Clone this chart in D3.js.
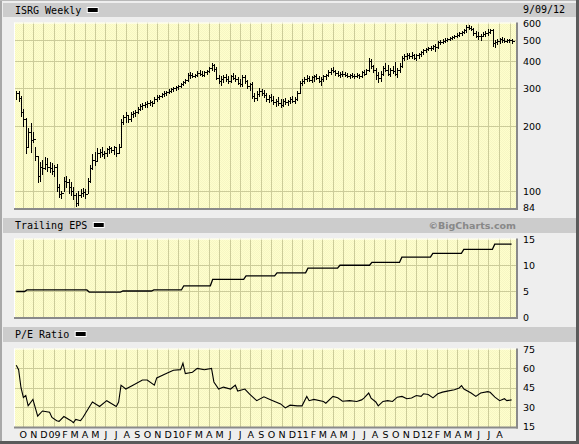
<!DOCTYPE html>
<html><head><meta charset="utf-8">
<script src="https://cdn.jsdelivr.net/npm/d3@7"></script>
<style>body{margin:0;background:#eeeeee;}svg{display:block}</style>
</head><body><svg id="c" width="579" height="444"></svg>
<script>
// ---------------- DATA ----------------
const firstWeek = "2008-09-12"; // weekly bars, one per week
const priceHigh = [292,290,275,240,218,196,206,188,160,145,136,140,144,142,137,135,132,134,108,100,116,118,114,110,104,98,100,102,103,102,115,132,148,152,158,156,160,154,158,162,160,162,160,165,215,225,232,225,232,235,238,245,252,256,258,260,264,262,272,278,280,286,290,292,296,300,304,308,310,318,324,330,352,355,352,350,358,362,360,358,365,375,390,388,375,345,340,345,350,340,345,352,345,338,330,345,345,326,318,320,285,290,300,298,295,285,280,282,275,268,272,266,268,270,265,272,275,272,290,325,330,338,345,342,340,345,348,342,338,345,350,362,372,375,365,360,355,358,356,352,350,354,350,352,350,360,365,368,412,408,385,370,355,360,378,392,385,372,380,395,370,390,420,432,438,436,440,432,430,438,445,455,460,465,470,475,480,495,500,505,510,512,515,525,530,538,545,550,565,585,590,580,570,550,545,535,545,550,560,565,560,500,505,510,515,512,508,505,505];
const priceLow  = [268,262,222,200,150,160,152,168,140,110,112,120,126,124,122,120,118,100,94,93,100,104,98,96,92,85,86,94,95,93,98,110,126,132,140,144,146,142,146,150,152,148,146,150,160,205,210,208,212,220,222,230,238,240,244,246,250,248,255,262,268,272,276,280,284,288,290,294,298,302,310,316,322,335,336,338,340,345,340,342,348,355,365,360,330,318,310,320,325,318,320,330,322,312,305,305,318,300,295,270,262,265,275,278,272,262,258,262,252,248,250,245,248,252,250,255,258,255,265,285,310,318,325,322,320,325,330,320,310,325,330,340,350,355,345,340,338,342,340,336,335,338,334,336,334,338,345,348,360,372,355,330,320,325,345,360,345,340,352,345,338,355,375,405,410,412,415,408,405,415,420,430,440,448,450,455,445,462,478,485,490,495,498,505,510,515,522,530,540,545,560,555,530,515,505,500,520,525,530,540,470,465,478,485,490,488,490,488,485];
const priceClose= [285,270,232,215,160,188,172,175,145,118,130,128,134,130,128,124,129,104,97,98,112,110,104,100,96,88,96,98,99,97,112,128,140,138,150,152,148,150,156,158,155,160,150,160,210,220,225,215,228,230,232,240,248,250,252,255,258,255,268,272,276,282,285,288,292,296,300,304,306,314,320,326,345,345,340,346,352,350,346,355,360,370,382,368,335,325,330,338,332,325,340,335,330,318,312,338,322,305,312,275,270,282,290,285,280,268,272,265,258,262,255,250,262,258,262,268,262,268,285,318,325,330,335,328,336,340,335,325,332,340,345,355,365,360,352,345,350,348,345,342,346,342,340,345,340,355,350,362,400,378,362,345,335,350,372,365,350,365,360,350,362,380,415,420,425,420,425,415,425,432,440,448,455,460,462,468,465,488,490,495,500,505,510,518,525,530,538,545,558,575,570,562,540,525,520,525,535,540,548,555,485,490,495,505,500,495,498,502,495];
const epsChangeDates = ["2008-10-10","2009-04-11","2009-07-19","2009-10-18","2010-01-14","2010-04-09","2010-07-16","2010-10-15","2011-01-14","2011-04-18","2011-07-21","2011-10-17","2012-01-16","2012-04-16","2012-07-16"];
const epsValues = [4.9,5.2,4.8,5.0,5.2,6.0,7.25,7.9,8.5,9.4,9.95,10.5,11.5,12.25,13.0,14.0];
const peWeeks  = [0,1,2,3,4,5,7,9,11,14,15,17,18,20,23,24,25,27,28,31,32,35,38,42,43,44,46,49,53,55,58,59,63,66,69,70,71,74,76,79,82,83,85,87,90,92,93,96,98,101,104,107,111,113,115,118,120,122,123,125,129,130,133,135,137,140,143,145,146,148,149,151,152,154,156,158,160,162,164,166,168,170,171,173,175,177,179,181,184,186,187,188,191,193,195,198,199,201,203,205,206,208];
const peValues = [62.5,59,45,37.5,39,31,36,23,27,26,22,19.5,19,22.7,19.5,18,20.5,19.5,22,31,34,30.5,35,30.5,34,47,44,47,51,51,47,52.6,56,58.6,59,64,56,57,60,59,60,49.5,44,45.5,44,47,42.5,44,40,35,38,35.6,32.5,29.4,31.5,31,31,38.3,35,36,34.4,33,38.3,37.2,34.6,35,34.4,35.6,37,40.9,37,34,31,34.4,35,34.4,37.7,38.3,36.5,37,39,38.3,40.3,39.8,37.2,40.3,41.6,42.4,43.5,44.8,46.6,44,40.9,38.3,40.9,42,41.5,37.7,35,36.5,35,35.6];
const priceTicks = [600,500,400,300,200,100,84];
const priceGrid = [500,400,300,200,100];
const epsTicks = [15,10,5,0];
const epsGrid = [10,5];
const peTicks = [75,60,45,30,15];
const peGrid = [60,45,30];
const monthLabels = ["O","N","D","09","F","M","A","M","J","J","A","S","O","N","D","10","F","M","A","M","J","J","A","S","O","N","D","11","F","M","A","M","J","J","A","S","O","N","D","12","F","M","A","M","J","J","A"];
const titles = ["ISRG Weekly","Trailing EPS","P/E Ratio"];
const lastDate = "9/09/12";
const credit = "\u00A9BigCharts.com";

// ---------------- DRAW ----------------
const svg = d3.select("#c");
const W = 579, H = 444;
const L = 14, R = 516;
const parse = d3.utcParse("%Y-%m-%d");
const day = 864e5;
const x = d3.scaleUtc().domain([new Date(Date.UTC(2008,8,5,10)), new Date(Date.UTC(2012,8,20))]).range([L, R]);
const w0 = parse(firstWeek);
const weekDate = i => new Date(+w0 + i*7*day);

const panels = [
  {bar:[3,17], top:22.5, bot:208.5},
  {bar:[218,233], top:238.5, bot:317.5},
  {bar:[327,342], top:348.5, bot:427}
];
const yP = d3.scaleLog().domain([84,600]).range([207.5,23]);
const yE = d3.scaleLinear().domain([0,15]).range([317,239]);
const yR = d3.scaleLinear().domain([15,75]).range([426.5,349]);

const defs = svg.append("defs");
const pat = defs.append("pattern").attr("id","dith").attr("width",2).attr("height",2).attr("patternUnits","userSpaceOnUse");
pat.append("rect").attr("width",2).attr("height",2).attr("fill","#ffffcc");
pat.append("rect").attr("width",1).attr("height",1).attr("fill","#f6f6c4");
pat.append("rect").attr("x",1).attr("y",1).attr("width",1).attr("height",1).attr("fill","#f6f6c4");

svg.append("rect").attr("width",W).attr("height",H).attr("fill","#eeeeee");
svg.append("rect").attr("x",0).attr("y",0).attr("width",2).attr("height",H).attr("fill","#a8a8a8");
svg.append("rect").attr("x",0).attr("y",0).attr("width",W).attr("height",1).attr("fill","#b8b8b8");
svg.append("rect").attr("x",W-3).attr("y",0).attr("width",3).attr("height",H).attr("fill","#5a5a5a");
svg.append("rect").attr("x",0).attr("y",H-3).attr("width",W).attr("height",3).attr("fill","#5a5a5a");

const months = d3.utcMonth.range(new Date(Date.UTC(2008,9,1)), new Date(Date.UTC(2012,8,2)));

panels.forEach((p,k) => {
  svg.append("rect").attr("x",3).attr("y",p.bar[0]).attr("width",573).attr("height",p.bar[1]-p.bar[0]).attr("fill","#cccccc");
  const g = svg.append("g");
  g.append("rect").attr("x",L).attr("y",p.top).attr("width",R-L).attr("height",p.bot-p.top).attr("fill","url(#dith)");
  g.selectAll("line.v").data(months).join("line")
    .attr("x1",d=>Math.round(x(d))+0.5).attr("x2",d=>Math.round(x(d))+0.5)
    .attr("y1",p.top).attr("y2",p.bot).attr("stroke","#cccc99").attr("stroke-width",1);
  const [sc, grid] = k===0?[yP,priceGrid]:k===1?[yE,epsGrid]:[yR,peGrid];
  g.selectAll("line.h").data(grid).join("line")
    .attr("x1",L).attr("x2",R).attr("y1",d=>Math.round(sc(d))+0.5).attr("y2",d=>Math.round(sc(d))+0.5)
    .attr("stroke","#cccc99").attr("stroke-width",1);
  g.append("line").attr("x1",L).attr("x2",R).attr("y1",p.top+0.5).attr("y2",p.top+0.5).attr("stroke","#ffffff");
  g.append("line").attr("x1",L+0.5).attr("x2",L+0.5).attr("y1",p.top).attr("y2",p.bot).attr("stroke","#ffffff");
  g.append("line").attr("x1",L).attr("x2",R+2).attr("y1",p.bot+0.5).attr("y2",p.bot+0.5).attr("stroke","#8a8a8a").attr("stroke-width",2);
  g.append("line").attr("x1",R+1).attr("x2",R+1).attr("y1",p.top).attr("y2",p.bot+1.5).attr("stroke","#8a8a8a").attr("stroke-width",2);
  const t = svg.append("text").attr("x",15).attr("y",p.bar[0]+10.5)
    .attr("font-family","DejaVu Sans Mono").attr("font-size","10px").attr("fill","#000").text(titles[k]);
  const tw = t.node().getComputedTextLength();
  svg.append("rect").attr("x",15+tw+6).attr("y",p.bar[0]+4.5).attr("width",11).attr("height",5)
    .attr("fill","#000").attr("stroke","#fff").attr("stroke-width",1);
});

svg.append("text").attr("x",523).attr("y",13).attr("font-family","DejaVu Sans Mono").attr("font-size","10px").text(lastDate);
svg.append("text").attr("x",516).attr("y",229).attr("text-anchor","end").attr("font-family","DejaVu Sans").attr("font-weight","bold")
  .attr("font-size","9.5px").attr("fill","#888888").text(credit);

const axisFont = g => g.attr("font-family","DejaVu Sans").attr("font-size","9.5px").attr("fill","#000");
[[yP,priceTicks],[yE,epsTicks],[yR,peTicks]].forEach(([sc,ticks]) => {
  svg.append("g").call(axisFont).selectAll("text").data(ticks).join("text")
    .attr("x",523).attr("y",d=>sc(d)+3.5).text(d=>d);
});

svg.append("g").call(axisFont).attr("text-anchor","middle").selectAll("text").data(monthLabels).join("text")
  .attr("x",(d,i)=>x(months[i])+0.5).attr("y",438).text(d=>d);

// price bars (high-low with close tick)
const bars = svg.append("g").attr("stroke","#000").attr("stroke-width",1).attr("fill","none").attr("shape-rendering","crispEdges");
priceHigh.forEach((h,i) => {
  const xi = Math.round(x(weekDate(i)))+0.5;
  bars.append("line").attr("x1",xi).attr("x2",xi).attr("y1",Math.round(yP(h))).attr("y2",Math.round(yP(priceLow[i]))+1);
  const yc = Math.round(yP(priceClose[i]))+0.5;
  bars.append("line").attr("x1",xi).attr("x2",xi+2).attr("y1",yc).attr("y2",yc);
});

const eStart = weekDate(0), eEnd = weekDate(priceHigh.length-1);
const ePts = [[eStart, epsValues[0]]];
epsChangeDates.forEach((ds,k) => {
  const d = parse(ds);
  ePts.push([new Date(+d - 3.5*day), epsValues[k]]);
  ePts.push([new Date(+d + 3.5*day), epsValues[k+1]]);
});
ePts.push([eEnd, epsValues[epsValues.length-1]]);
svg.append("path").datum(ePts).attr("fill","none").attr("stroke","#000").attr("stroke-width",1.3)
  .attr("d", d3.line().x(d=>x(d[0])).y(d=>yE(d[1])));

svg.append("path").datum(peWeeks.map((w,i)=>[weekDate(w), peValues[i]])).attr("fill","none").attr("stroke","#000").attr("stroke-width",1.1)
  .attr("d", d3.line().x(d=>x(d[0])).y(d=>yR(d[1])));
</script></body></html>
